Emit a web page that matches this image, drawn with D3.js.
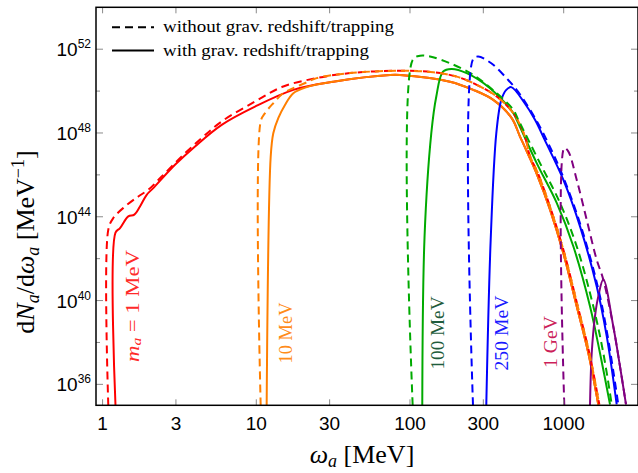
<!DOCTYPE html>
<html lang="en">
<head>
<meta charset="UTF-8">
<title>Axion spectra</title>
<style>
  body { margin: 0; background: #fff; }
  svg { display: block; }
  .serif { font-family: 'Liberation Serif', 'DejaVu Serif', serif; }
  .sans { font-family: 'Liberation Sans', Arial, sans-serif; }
</style>
</head>
<body>
<svg id="chart" width="638" height="473"></svg>
<script src="https://d3js.org/d3.v7.min.js"></script>
<script>
// axis ticks
const xTicks = [1, 3, 10, 30, 100, 300, 1000];
const yMajorExp = [36, 40, 44, 48, 52];
const yMinorExp = [38, 42, 46, 50];

// spectra: [omega (MeV), log10 dN/domega]
const ma1Dashed = [[1.089,35],[1.089,43.38],[1.174,43.94],[1.399,44.49],[1.708,44.97],[1.983,45.29],[2.424,45.92],[3.270,46.88],[4.414,47.76],[5.956,48.55],[9.806,49.50],[14.99,50.22],[24.72,50.62],[40.70,50.86],[86.08,50.97],[141.8,50.90],[201.3,50.69],[271.6,50.30],[366.5,49.74],[470.0,48.95],[560.1,47.83],[599.4,46.96],[685.5,46.01],[827,44.34],[1009,42.27],[1234,39.73],[1468,37.50],[1705,35.04]];
const ma1Solid = [[1.213,35],[1.213,43.24],[1.298,43.46],[1.470,44.02],[1.608,44.10],[1.751,44.49],[1.936,45.05],[2.137,45.37],[2.958,46.48],[3.993,47.36],[5.956,48.39],[9.806,49.26],[17.41,50.06],[31.70,50.45],[74.13,50.77],[86.08,50.77],[182.0,50.45],[258.2,50.06],[348.3,49.58],[458.9,48.71],[519.6,47.83],[588.6,46.96],[670.4,46.01],[814.6,44.34],[994.0,42.27],[1215,39.73],[1446,37.50],[1679,35.04]];
const ma10Dashed = [[10.68,35],[10.68,48.55],[11.39,48.95],[12.90,49.42],[14.99,49.90],[17.41,50.14],[21.0,50.40],[24.72,50.62],[40.70,50.86],[86.08,50.97],[141.8,50.90],[201.3,50.69],[271.6,50.30],[366.5,49.74],[470.0,48.95],[560.1,47.83],[599.4,46.96],[685.5,46.01],[827,44.34],[1009,42.27],[1234,39.73],[1468,37.50],[1705,35.04]];
const ma10Solid = [[11.68,35],[12.41,46.88],[12.90,47.99],[13.90,48.71],[15.37,49.34],[17.41,49.90],[21.28,50.19],[31.70,50.45],[74.13,50.77],[86.08,50.77],[182.0,50.45],[258.2,50.06],[348.3,49.58],[458.9,48.71],[519.6,47.83],[588.6,46.96],[670.4,46.01],[814.6,44.34],[994.0,42.27],[1215,39.73],[1446,37.50],[1679,35.04]];
const ma100Dashed = [[104.1,35],[104.1,51.49],[116.2,51.69],[134.9,51.65],[182.0,51.33],[258.2,50.77],[366.5,49.90],[470.0,49.11],[506.5,48.63],[701.2,46.56],[946.1,44.66],[1215,42.59],[1558,39.73],[1810,37.50],[2053,35.04]];
const ma100Solid = [[120.2,35],[124.3,43.0],[137.6,47.99],[148.3,49.74],[163.9,50.93],[186.2,51.06],[233.8,50.86],[331.6,50.14],[470.0,48.95],[494.5,48.63],[667.3,46.56],[900.6,44.66],[1155,42.59],[1483,39.73],[1722,37.50],[2002,35.04]];
const ma250Dashed = [[257.0,35],[257.0,51.52],[277.0,51.65],[338.0,51.33],[434.0,50.54],[504.3,49.98],[660.4,48.63],[830.5,47.20],[1009,45.77],[1296,43.54],[1664,40.68],[1933,38.30],[2265,35.04]];
const ma250Solid = [[313.6,35],[335.0,42.91],[364.4,47.99],[392.6,49.58],[423.2,50.06],[456.0,50.19],[557.5,49.42],[650.6,48.63],[752.5,47.67],[994.0,45.77],[1277,43.54],[1639,40.68],[1905,38.30],[2212,35.04]];
const ma1000Dashed = [[1009,35],[1009,47.28],[1071,47.12],[1215,45.77],[1411,43.86],[1639,41.95],[1810,41.00],[2102,38.77],[2324,36.86],[2543,35.04]];
const ma1000Solid = [[1483,35],[1522,37.50],[1598,39.25],[1679,40.20],[1810,41.00],[2102,38.77],[2324,36.86],[2543,35.04]];

const massNames = ["1 MeV", "10 MeV", "100 MeV", "250 MeV", "1 GeV"];
const lineColors = ["#ff0000", "#ff7f00", "#00aa00", "#0000ff", "#800080"];
const labelColors = ["#ff2a2a", "#ff8c1a", "#1f5c3c", "#1a1aff", "#cc1f5a"];

const solids = [ma1Solid, ma10Solid, ma100Solid, ma250Solid, ma1000Solid];
const dasheds = [ma1Dashed, ma10Dashed, ma100Dashed, ma250Dashed, ma1000Dashed];

const svg = d3.select("#chart");
const plotL = 96, plotR = 638, plotT = 7.3, plotB = 405.3;

const x = d3.scaleLog().domain([0.906, 3044]).range([plotL, plotR]);
const y = d3.scaleLog().domain([1e35, 1e54]).range([plotB, plotT]);

svg.append("clipPath").attr("id", "plotclip")
  .append("rect").attr("x", plotL).attr("y", plotT)
  .attr("width", plotR - plotL).attr("height", plotB - plotT);

const line = d3.line()
  .x(d => x(d[0]))
  .y(d => y(Math.pow(10, d[1])))
  .curve(d3.curveCatmullRom.alpha(0.5));

const plot = svg.append("g").attr("clip-path", "url(#plotclip)");

// solid curves first, dashed on top
solids.forEach((s, i) => {
  plot.append("path").attr("d", line(s))
    .attr("fill", "none").attr("stroke", lineColors[i])
    .attr("stroke-width", 2);
});
dasheds.forEach((s, i) => {
  plot.append("path").attr("d", line(s))
    .attr("fill", "none").attr("stroke", lineColors[i])
    .attr("stroke-width", 2).attr("stroke-dasharray", "8,5");
});

// ticks (pointing inward)
const tickColor = "#8a8a8a";
const ticks = svg.append("g").attr("stroke", tickColor).attr("stroke-width", 1);
xTicks.forEach(t => {
  ticks.append("line").attr("x1", x(t)).attr("x2", x(t)).attr("y1", plotB).attr("y2", plotB - 6);
  ticks.append("line").attr("x1", x(t)).attr("x2", x(t)).attr("y1", plotT).attr("y2", plotT + 6);
});
yMajorExp.forEach(e => {
  const yy = y(Math.pow(10, e));
  ticks.append("line").attr("x1", plotL).attr("x2", plotL + 7).attr("y1", yy).attr("y2", yy);
  ticks.append("line").attr("x1", plotR).attr("x2", plotR - 7).attr("y1", yy).attr("y2", yy);
});
yMinorExp.forEach(e => {
  const yy = y(Math.pow(10, e));
  ticks.append("line").attr("x1", plotL).attr("x2", plotL + 4).attr("y1", yy).attr("y2", yy);
  ticks.append("line").attr("x1", plotR).attr("x2", plotR - 4).attr("y1", yy).attr("y2", yy);
});

// frame
svg.append("rect").attr("x", plotL).attr("y", plotT)
  .attr("width", plotR - plotL).attr("height", plotB - plotT)
  .attr("fill", "none").attr("stroke", "#000").attr("stroke-width", 1.5);

// tick labels
svg.append("g").selectAll("text").data(xTicks).join("text")
  .attr("class", "sans")
  .attr("x", d => x(d)).attr("y", 430)
  .attr("text-anchor", "middle").attr("font-size", 19).attr("fill", "#000")
  .text(d => d);

const yl = svg.append("g").selectAll("text").data(yMajorExp).join("text")
  .attr("class", "sans")
  .attr("x", 91).attr("y", d => y(Math.pow(10, d)) + 7)
  .attr("text-anchor", "end").attr("font-size", 19).attr("fill", "#000");
yl.append("tspan").text("10");
yl.append("tspan").attr("dy", -8).attr("font-size", 12).text(d => d);

// axis titles
const xt = svg.append("text").attr("class", "serif")
  .attr("x", 362).attr("y", 463).attr("text-anchor", "middle")
  .attr("font-size", 26).attr("fill", "#000");
xt.append("tspan").attr("font-style", "italic").text("ω");
xt.append("tspan").attr("font-style", "italic").attr("font-size", 18).attr("dy", 4).text("a");
xt.append("tspan").attr("dy", -4).text(" [MeV]");

const yt = svg.append("text").attr("class", "serif")
  .attr("transform", "translate(34,242) rotate(-90)")
  .attr("text-anchor", "middle").attr("font-size", 26).attr("fill", "#000");
yt.append("tspan").text("d");
yt.append("tspan").attr("font-style", "italic").text("N");
yt.append("tspan").attr("font-style", "italic").attr("font-size", 18).attr("dy", 5).text("a");
yt.append("tspan").attr("dy", -5).text("/d");
yt.append("tspan").attr("font-style", "italic").text("ω");
yt.append("tspan").attr("font-style", "italic").attr("font-size", 18).attr("dy", 5).text("a");
yt.append("tspan").attr("dy", -5).text(" [MeV");
yt.append("tspan").attr("font-size", 18).attr("dy", -10).text("−1");
yt.append("tspan").attr("dy", 10).text("]");

// legend
const legend = svg.append("g");
[["8,5", "without grav. redshift/trapping", 27.3, 231], ["", "with grav. redshift/trapping", 50.5, 206]].forEach(r => {
  legend.append("line").attr("x1", 112).attr("x2", 154).attr("y1", r[2]).attr("y2", r[2])
    .attr("stroke", "#000").attr("stroke-width", 2).attr("stroke-dasharray", r[0] || null);
  legend.append("text").attr("class", "serif")
    .attr("x", 163).attr("y", r[2] + 5).attr("font-size", 17).attr("fill", "#000")
    .attr("textLength", r[3]).attr("lengthAdjust", "spacingAndGlyphs")
    .text(r[1]);
});

// mass labels (rotated)
const labelPos = [[132, 306], [285, 333], [437, 333], [501, 333], [550, 342]];
const labelLen = [112, 61, 73, 75, 52];
labelPos.forEach((p, i) => {
  const t = svg.append("text").attr("class", "serif")
    .attr("transform", `translate(${p[0]},${p[1]}) rotate(-90)`)
    .attr("text-anchor", "middle").attr("dominant-baseline", "central")
    .attr("font-size", 19).attr("fill", labelColors[i])
    .attr("textLength", labelLen[i]).attr("lengthAdjust", "spacingAndGlyphs");
  if (i === 0) {
    t.append("tspan").attr("font-style", "italic").text("m");
    t.append("tspan").attr("font-style", "italic").attr("font-size", 13).attr("dy", 4).text("a");
    t.append("tspan").attr("dy", -4).text(" = " + massNames[i]);
  } else {
    t.text(massNames[i]);
  }
});
</script>
</body>
</html>
